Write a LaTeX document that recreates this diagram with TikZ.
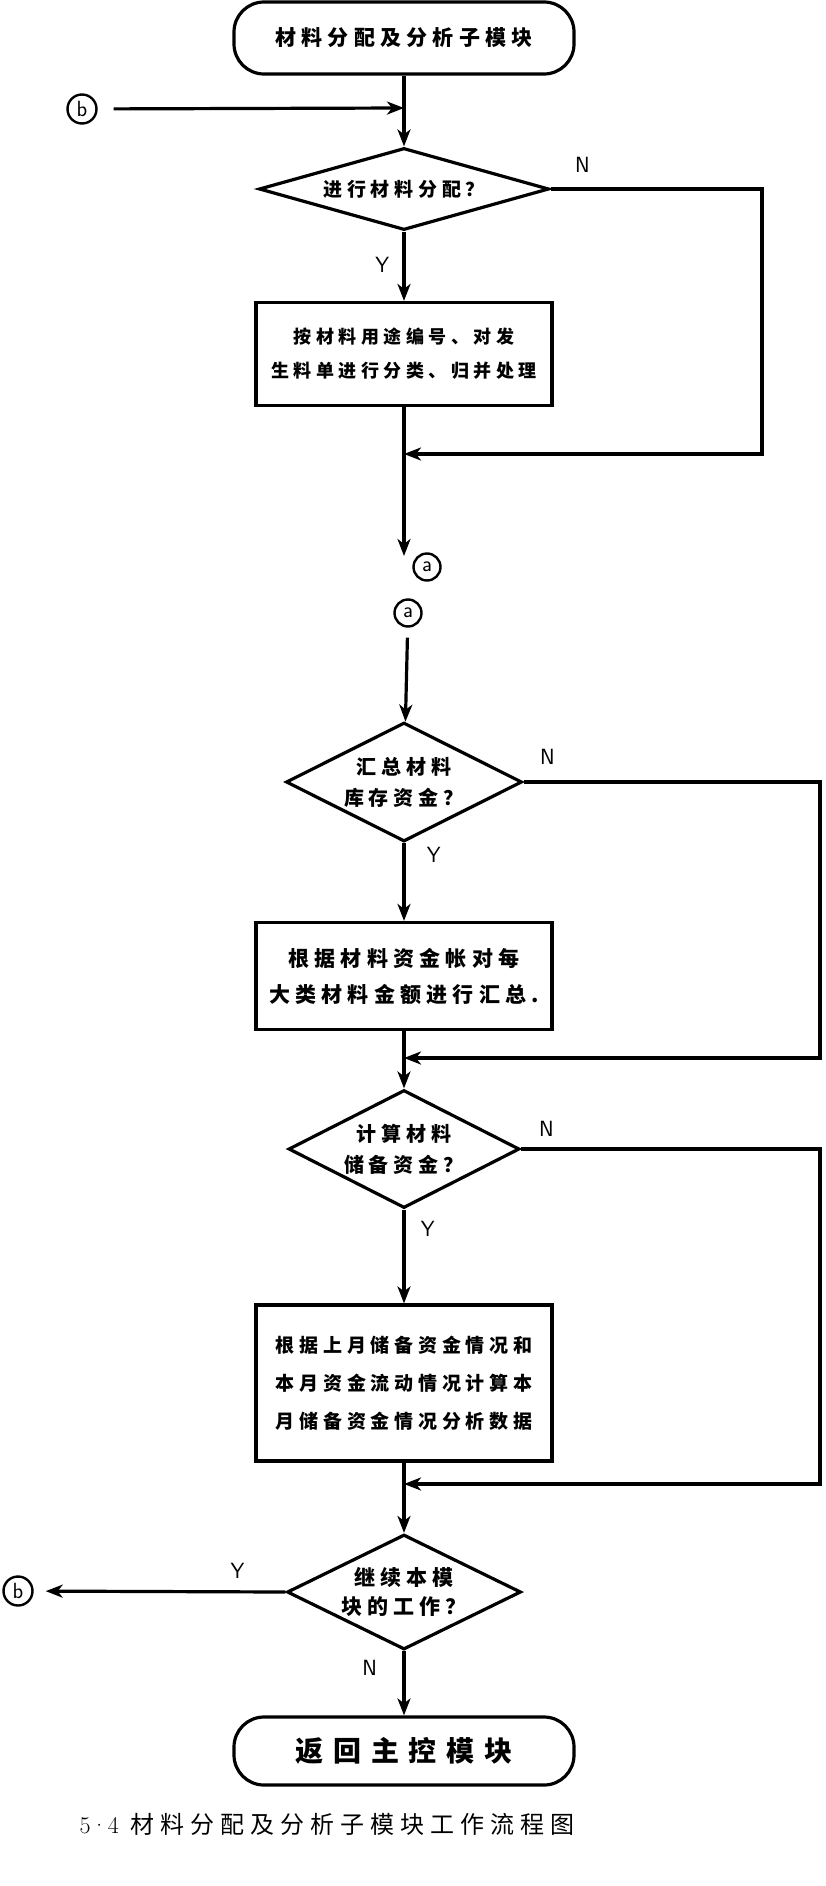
\documentclass[tikz,border=0pt]{standalone}
\usepackage{fontspec}
\newfontfamily\cjk[LetterSpace=25]{Noto Sans CJK SC}
\newfontfamily\cjkwide[LetterSpace=35]{Noto Sans CJK SC}
\newcommand\zhtxt[2]{\cjk\bfseries\fontsize{#1}{#2}\selectfont}
\usetikzlibrary{shapes.geometric,arrows.meta}

\begin{document}
\begin{tikzpicture}[x=1pt,y=-1pt,
	line/.style={line width=3.2pt},
	arr/.style={line,-{Stealth[length=17pt,width=13pt,inset=5pt]}},
	termbox/.style={draw,line width=3.2pt,rounded corners=30pt,minimum width=340pt,minimum height=72pt,inner sep=0pt},
	procbox/.style={draw,line width=3.2pt,minimum width=296pt,inner sep=0pt,align=center},
	decision/.style={draw,diamond,line width=3.2pt,inner sep=0pt,align=center},
	conn/.style={draw,circle,line width=2.4pt,minimum size=29pt,inner sep=0pt,font=\sffamily\fontsize{22}{22}\selectfont},
	yn/.style={font=\sffamily\fontsize{22}{22}\selectfont}]
	\fill[white] (0,0) rectangle (826,1886); \useasboundingbox (0,0) rectangle (826,1886);
	%Knoten
	\node[termbox,font=\zhtxt{21}{21}] (start) at (404,38) {材料分配及分析子模块};
	\node[conn] (b1) at (82,109) {b}; \coordinate (jb) at (404,108);
	\node[decision,minimum width=290pt,minimum height=82pt,aspect=3.5,font=\zhtxt{19}{26}] (d1) at (404,189) {进行材料分配？};
	\node[procbox,minimum height=103pt,font=\zhtxt{18}{34}] (p1) at (404,354) {按材料用途编号、对发\\生料单进行分类、归并处理};
	\coordinate (m1) at (404,454); \coordinate (r1) at (762,189); \coordinate (aend) at (404,556);
	\node[conn,minimum size=27pt] (a1) at (427,567) {a}; \node[conn,minimum size=27pt] (a2) at (408,613) {a};
	
	\node[decision,minimum width=236pt,minimum height=119pt,aspect=2,font=\zhtxt{20}{31}] (d2) at (404,782) {汇总材料\\库存资金？};
	\node[procbox,minimum height=107pt,font=\zhtxt{21}{36}] (p2) at (404,976) {根据材料资金帐对每\\大类材料金额进行汇总.};
	\coordinate (m2) at (404,1058); \coordinate (r2) at (820,782);
	
	\node[decision,minimum width=231pt,minimum height=118pt,aspect=2,font=\zhtxt{20}{31}] (d3) at (404,1149) {计算材料\\储备资金？};
	\node[procbox,minimum height=156pt,font=\zhtxt{19}{38}] (p3) at (404,1383) {根据上月储备资金情况和\\本月资金流动情况计算本\\月储备资金情况分析数据};
	\coordinate (m3) at (404,1484); \coordinate (r3) at (820,1149);
	
	\node[decision,minimum width=234pt,minimum height=115pt,aspect=2,font=\zhtxt{21}{29}] (d4) at (404,1592) {继续本模\\块的工作？};
	\node[conn] (b2) at (18,1591) {b};
	\node[termbox,minimum height=68pt,font={\cjkwide\bfseries\fontsize{28}{28}\selectfont}] (end) at (404,1751) {返回主控模块};
	\node[font={\cjk\fontsize{24}{24}\selectfont}] (cap) at (327,1824) {{\normalfont\fontsize{24}{24}\selectfont 5·4} 材料分配及分析子模块工作流程图};
	
	%Pfeile
	\draw[arr] (start) -- (d1); \draw[arr,shorten <=16pt] (b1) -- (jb);
	\draw[arr] (d1) --node[yn,left=10pt,pos=0.48] (y1) {Y} (p1);
	\draw[arr] (d1.east) --node[yn,above=12pt,pos=0.15] (n1) {N} (r1) |- (m1);
	\draw[line] (p1) -- (m1); \draw[arr] (m1) -- (aend);
	
	\draw[arr,shorten <=10pt] (a2) -- (d2);
	\draw[arr] (d2) --node[yn,right=18pt,pos=0.15] (y2) {Y} (p2);
	\draw[arr] (d2.east) --node[yn,above=13pt,pos=0.08] (n2) {N} (r2) |- (m2);
	\draw[line] (p2) -- (m2); \draw[arr] (m2) -- (d3);
	
	\draw[arr] (d3) --node[yn,right=12pt,pos=0.2] (y3) {Y} (p3);
	\draw[arr] (d3.east) --node[yn,above=8pt,pos=0.085] (n3) {N} (r3) |- (m3);
	\draw[line] (p3) -- (m3); \draw[arr] (m3) -- (d4);
	
	\draw[arr,shorten >=12pt] (d4.west) --node[yn,above=8pt,pos=0.19] (y4) {Y} (b2);
	\draw[arr] (d4) --node[yn,left=22pt,pos=0.26] (n4) {N} (end);
\end{tikzpicture}
\end{document}
